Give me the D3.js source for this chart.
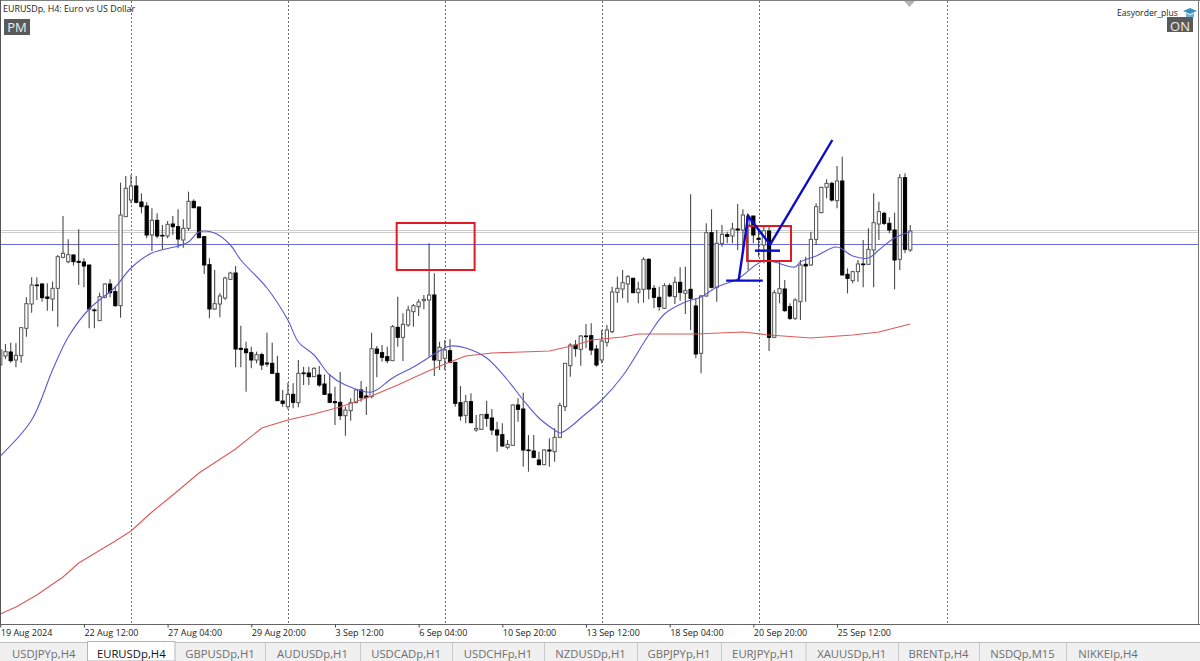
<!DOCTYPE html>
<html><head><meta charset="utf-8">
<style>
html,body{margin:0;padding:0;background:#fff;overflow:hidden}
svg{display:block}
text{font-family:"Open Sans","Noto Sans",sans-serif}
</style>
<script src="https://cdn.jsdelivr.net/npm/d3@7"></script>
</head><body><svg id="c" width="1200" height="661"></svg>
<script>
// All prices are in broker points relative to the blue horizontal level.
const highs=[-308,-300,-296,-298,-251,-160,-100,-100,-118,-118,
-113,-33,84,14,-31,44,-43,-63,-193,-146,
-118,-106,-126,184,204,207,204,152,125,107,
92,57,69,84,104,74,157,134,112,24,
-43,-78,-148,-98,-83,-66,-245,-293,-308,-323,
-326,-266,-296,-335,-438,-416,-418,-348,-368,-368,
-370,-366,-391,-391,-428,-384,-488,-463,-436,-411,
-428,-266,-306,-303,-308,-243,-158,-208,-185,-180,
-166,-153,2,-88,-293,-288,-286,-353,-426,-453,
-448,-513,-510,-470,-495,-533,-538,-588,-481,-463,
-446,-573,-573,-623,-616,-583,-553,-476,-358,-298,
-288,-273,-240,-238,-303,-258,-243,-128,-98,-78,
-93,-101,-113,-40,-43,-123,-128,-118,-118,-98,
-70,-68,149,-163,-153,62,104,42,57,37,
64,120,104,90,84,47,57,52,-138,-53,
-108,-178,-163,-48,-38,37,122,172,194,187,
234,262,-73,-80,-48,12,47,152,127,97,
80,94,210,212,57];
const lows=[-368,-345,-356,-370,-356,-278,-206,-168,-173,-200,
-201,-248,-43,-58,-65,-123,-130,-253,-253,-231,
-163,-160,-188,-221,82,122,122,92,17,-21,
17,-16,17,27,-13,-11,40,107,17,-90,
-223,-198,-220,-168,-108,-370,-370,-443,-373,-358,
-378,-368,-388,-470,-488,-496,-493,-490,-423,-423,
-398,-428,-453,-478,-543,-528,-575,-530,-478,-473,
-513,-463,-400,-353,-358,-350,-308,-351,-248,-248,
-216,-196,-338,-396,-378,-378,-358,-488,-530,-538,
-538,-563,-558,-548,-573,-623,-608,-616,-606,-533,
-668,-683,-643,-664,-664,-668,-653,-582,-501,-398,
-338,-365,-313,-333,-368,-358,-308,-268,-176,-163,
-176,-148,-178,-176,-166,-193,-200,-195,-160,-180,
-170,-210,-258,-343,-388,-158,-133,-173,-8,2,
2,-18,-18,-78,2,-38,-58,-321,-283,-178,
-203,-228,-228,-228,-173,-66,-3,92,137,127,
107,-93,-148,-118,-113,-130,-63,-130,12,57,
32,-136,-78,-28,-23];
const opens=[-363,-336,-324,-348,-335,-253,-180,-123,-120,-159,
-165,-133,-40,-53,-33,-52,-54,-63,-198,-230,
-160,-120,-143,-185,82,132,174,126,114,27,
71,26,24,60,52,12,47,128,111,22,
-62,-195,-180,-162,-106,-87,-313,-315,-326,-348,
-332,-357,-358,-388,-471,-488,-451,-476,-387,-387,
-398,-393,-420,-450,-473,-475,-515,-500,-476,-438,
-456,-458,-315,-326,-338,-350,-250,-280,-243,-203,
-188,-170,-168,-153,-350,-343,-320,-355,-476,-514,
-473,-558,-556,-511,-522,-558,-572,-610,-604,-483,
-495,-618,-621,-648,-662,-618,-623,-580,-488,-365,
-303,-316,-276,-275,-315,-348,-295,-263,-145,-135,
-120,-103,-146,-136,-46,-133,-160,-193,-125,-158,
-115,-148,-136,-186,-328,-156,34,-130,2,28,
24,45,42,57,84,17,-3,39,-280,-148,
-135,-188,-223,-173,-61,-63,14,94,170,182,
130,189,-91,-110,-83,-60,-61,-18,60,92,
62,42,-46,199,-18];
const closes=[-318,-323,-350,-334,-251,-179,-123,-125,-161,-163,
-133,-38,-28,-32,-53,-55,-66,-195,-200,-158,
-120,-146,-185,87,167,174,125,112,27,71,
24,24,59,52,15,47,128,109,19,-63,
-195,-179,-156,-102,-87,-315,-316,-326,-348,-332,
-363,-360,-388,-470,-478,-451,-475,-388,-389,-398,
-373,-423,-451,-475,-476,-515,-498,-476,-438,-461,
-461,-314,-328,-340,-350,-248,-280,-241,-198,-185,
-174,-166,-153,-348,-310,-318,-355,-478,-516,-473,
-536,-553,-512,-523,-558,-573,-606,-601,-483,-496,
-618,-620,-640,-662,-618,-621,-580,-484,-358,-303,
-314,-276,-278,-318,-363,-291,-258,-144,-133,-116,
-98,-146,-135,-46,-135,-160,-188,-125,-156,-115,
-145,-140,-163,-330,-156,34,-130,2,29,23,
45,42,87,84,27,14,40,-280,-146,-134,
-200,-223,-168,-63,-66,14,112,170,182,132,
189,-93,-103,-83,-60,-62,-16,64,97,62,
42,-48,199,-16,39];

// Moving averages read at selected bars
const fastBars=[0,6,10,13,17,22,25,29,34,36,38,41,44,46,51,55,57,60,63,66,71,75,79,83,85,86,89,93,97,100,103,106,107,109,111,115,119,124,127,131,134,137,141,146,152,153,156,160,163,166,168,171,174];
const fastValues=[-636,-528,-378,-279,-195,-129,-72,-27,-6,6,36,33,-3,-48,-132,-228,-294,-333,-393,-423,-444,-402,-369,-330,-312,-306,-312,-342,-408,-468,-522,-558,-567,-549,-522,-468,-396,-273,-210,-174,-159,-129,-105,-51,-69,-54,-36,-9,-36,-42,-18,18,36];
const slowBars=[0,3,7,12,15,22,25,29,33,38,45,50,55,60,65,71,76,81,85,89,94,105,110,113,119,122,133,142,147,155,163,168,174];
const slowValues=[-1110,-1089,-1053,-999,-957,-891,-861,-804,-753,-687,-615,-552,-528,-510,-489,-456,-423,-387,-360,-336,-327,-321,-303,-288,-279,-270,-270,-264,-273,-282,-273,-264,-240];

// Chart furniture
const periodBars=[25,55,85,115,145,181];
const greyLevels=[42,36];
const blueLevel=[0];
const tickBars=[0,16,32,48,64,80,96,112,128,144,160];
const tickLabels=["19 Aug 2024","22 Aug 12:00","27 Aug 04:00","29 Aug 20:00","3 Sep 12:00","6 Sep 04:00","10 Sep 20:00","13 Sep 12:00","18 Sep 04:00","20 Sep 20:00","25 Sep 12:00"];
// Drawn annotations: [bar, points]
const redBoxes=[[[75.8,63],[90.7,-78]],[[142.8,54],[151.2,-51]]];
const zigzag=[[141.2,-108],[143.0,84],[147.2,-2],[159.1,312]];
const blueMarks=[[[138.8,-110],[145.8,-110]],[[144.3,-20],[149.1,-20]]];
// Tabs
const tabLabels=["USDJPYp,H4","EURUSDp,H4","GBPUSDp,H1","AUDUSDp,H1","USDCADp,H1","USDCHFp,H1","NZDUSDp,H1","GBPJPYp,H1","EURJPYp,H1","XAUUSDp,H1","BRENTp,H4","NSDQp,M15","NIKKEIp,H4"];
const tabEdges=[0,87.5,175,265,360,452,544,637,721,805.5,898,979,1066,1150];
const activeTab=1;

const W=1200,H=661,plotB=624;
const svg=d3.select("#c");
const x=d3.scaleLinear().domain([0,229]).range([0.25,1197.9]);
const y=d3.scaleLinear().domain([732,-1146]).range([0,626]);

svg.append("rect").attr("width",W).attr("height",H).attr("fill","#fff");

// vertical period separators
svg.append("g").selectAll("line").data(periodBars).join("line")
 .attr("x1",d=>Math.round(x(d))+.5).attr("x2",d=>Math.round(x(d))+.5)
 .attr("y1",1).attr("y2",plotB).attr("stroke","#6e6e6e").attr("stroke-dasharray","2,2");

// horizontal levels
svg.append("g").selectAll("line").data(greyLevels).join("line")
 .attr("x1",1).attr("x2",1198).attr("y1",d=>y(d)+.5).attr("y2",d=>y(d)+.5).attr("stroke","#cdcdcd");
svg.append("g").selectAll("line").data(blueLevel).join("line")
 .attr("x1",1).attr("x2",1198).attr("y1",d=>y(d)+.5).attr("y2",d=>y(d)+.5).attr("stroke","#6c6cdc").attr("stroke-width",1.2);

// candles
const bars=d3.range(highs.length);
const cg=svg.append("g");
cg.selectAll("line").data(bars).join("line")
 .attr("x1",i=>x(i)).attr("x2",i=>x(i)).attr("y1",i=>y(highs[i])).attr("y2",i=>y(lows[i]))
 .attr("stroke","#4a4a4a").attr("stroke-width",1.1);
cg.selectAll("rect").data(bars).join("rect")
 .attr("x",i=>x(i)-1.6).attr("width",3.2)
 .attr("y",i=>y(Math.max(opens[i],closes[i])))
 .attr("height",i=>Math.max(0.6,Math.abs(y(opens[i])-y(closes[i]))))
 .attr("fill",i=>closes[i]>=opens[i]?"#fff":"#000")
 .attr("stroke",i=>closes[i]>=opens[i]?"#555":"#000").attr("stroke-width",1);

// moving averages
const lnSlow=d3.line().x(d=>x(d[0])).y(d=>y(d[1]));
const lnFast=d3.line().x(d=>x(d[0])).y(d=>y(d[1])).curve(d3.curveCatmullRom.alpha(0.5));
svg.append("path").attr("d",lnSlow(d3.zip(slowBars,slowValues))).attr("fill","none").attr("stroke","#dc5a5a").attr("stroke-width",1.1);
svg.append("path").attr("d",lnFast(d3.zip(fastBars,fastValues))).attr("fill","none").attr("stroke","#5a5ad2").attr("stroke-width",1.1);

// drawn objects
svg.append("g").selectAll("rect").data(redBoxes).join("rect")
 .attr("x",d=>x(d[0][0])).attr("y",d=>y(d[0][1]))
 .attr("width",d=>x(d[1][0])-x(d[0][0])).attr("height",d=>y(d[1][1])-y(d[0][1]))
 .attr("fill","none").attr("stroke","#e01a22").attr("stroke-width",2);
const straight=d3.line().x(d=>x(d[0])).y(d=>y(d[1]));
svg.append("path").attr("d",straight(zigzag)).attr("fill","none").attr("stroke","#0a0ccc").attr("stroke-width",2.4);
svg.append("g").selectAll("path").data(blueMarks).join("path").attr("d",straight)
 .attr("fill","none").attr("stroke","#0a0ccc").attr("stroke-width",2.4);

// window frame
svg.append("line").attr("x1",0).attr("x2",W).attr("y1",.5).attr("y2",.5).attr("stroke","#808080");
svg.append("line").attr("x1",.5).attr("x2",.5).attr("y1",0).attr("y2",plotB).attr("stroke","#555");
svg.append("line").attr("x1",1198.5).attr("x2",1198.5).attr("y1",0).attr("y2",plotB).attr("stroke","#777");

// time axis
const axis=d3.axisBottom(x).tickValues(tickBars).tickFormat((d,i)=>tickLabels[i]).tickSize(3).tickSizeOuter(0).tickPadding(2.5);
const ax=svg.append("g").attr("transform",`translate(0,${plotB+.5})`).call(axis);
ax.select(".domain").attr("stroke","#666").attr("d","M0,0H1200");
ax.selectAll(".tick line").attr("stroke","#444");
ax.selectAll("text").attr("text-anchor","start").attr("font-family","'Open Sans',sans-serif").attr("font-size",9).attr("fill","#222").attr("dx",0);

// tabs
const tabY=642.5;
svg.append("rect").attr("x",0).attr("y",tabY).attr("width",W).attr("height",H-tabY).attr("fill","#f0f0f0");
svg.append("line").attr("x1",0).attr("x2",W).attr("y1",tabY).attr("y2",tabY).attr("stroke","#bdbdbd");
const tg=svg.append("g");
tabLabels.forEach((t,i)=>{
  const a=tabEdges[i],b=tabEdges[i+1],on=i===activeTab;
  if(on) tg.append("rect").attr("x",a).attr("y",tabY-1).attr("width",b-a).attr("height",H-tabY+1).attr("fill","#fff").attr("stroke","#b5b5b5");
  else if(i!==activeTab-1 && i<tabLabels.length-1) tg.append("line").attr("x1",b+.5).attr("x2",b+.5).attr("y1",tabY).attr("y2",H).attr("stroke","#c8c8c8");
  tg.append("text").attr("x",(a+b)/2).attr("y",657.5).attr("text-anchor","middle").attr("font-size",11.3)
    .attr("fill",on?"#111":"#6f6f6f").text(t);
});

// header text
svg.append("text").attr("x",3).attr("y",12).attr("font-size",8.9).attr("fill","#222").text("EURUSDp, H4:  Euro vs US Dollar");
svg.append("rect").attr("x",4).attr("y",19).attr("width",26).attr("height",16).attr("fill","#5a5a5a");
svg.append("text").attr("x",17).attr("y",32).attr("text-anchor","middle").attr("font-size",13).attr("fill","#eee").text("PM");
svg.append("text").attr("x",1117).attr("y",15.5).attr("font-size",8.6).attr("fill","#222").text("Easyorder_plus");
svg.append("rect").attr("x",1167).attr("y",17).attr("width",26).attr("height",15).attr("fill","#5a5a5a");
svg.append("text").attr("x",1180).attr("y",30.5).attr("text-anchor","middle").attr("font-size",13).attr("fill","#eee").text("ON");
// graduation-cap icon and top marker
svg.append("path").attr("d","M1183,11 L1190,8 L1197,11 L1190,14 Z").attr("fill","#3a8fc0");
svg.append("path").attr("d","M1186,13 L1186,17 L1194,17 L1194,13 L1190,15 Z").attr("fill","#6fb3d8");
svg.append("path").attr("d","M904,1 L915,1 L909.5,7 Z").attr("fill","#b5b5b5");
</script></body></html>
